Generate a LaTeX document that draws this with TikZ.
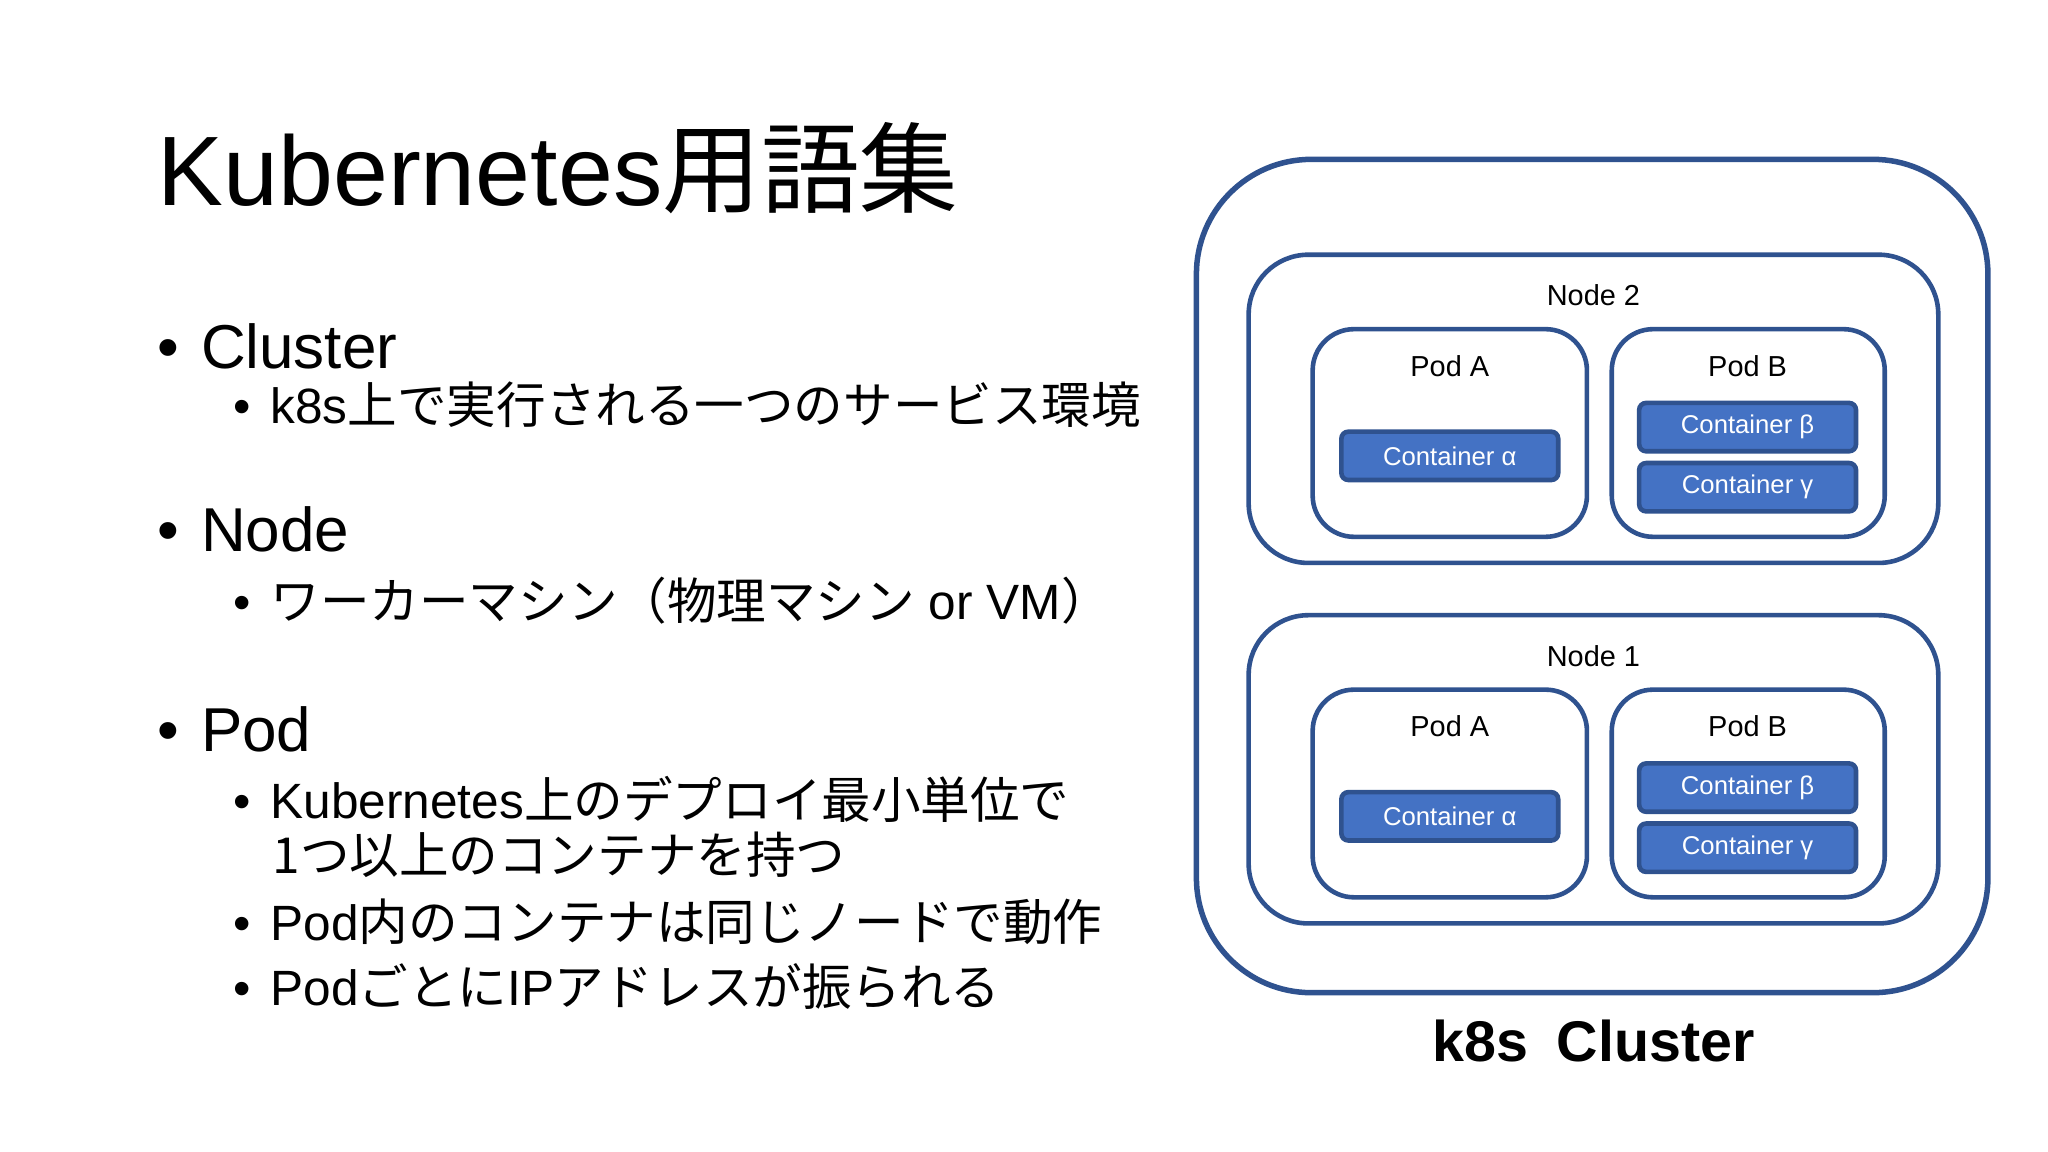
\documentclass[tikz,border=0pt]{standalone}
\usepackage{fontspec}
\setmainfont{Liberation Sans}
\newfontfamily\cjk{Noto Sans CJK JP}
\begin{document}
\begin{tikzpicture}[x=0.1mm,y=-0.1mm,
  box/.style={draw=blue!40!black!80, draw=bord, line width=1pt, rounded corners=#1},
  cont/.style={draw=bord, fill=cfill, line width=1pt, rounded corners=1.5pt, text=white, font=\fontsize{5.6}{6}\selectfont, minimum width=166*0.1mm, minimum height=37*0.1mm, inner sep=0pt},
  lbl/.style={font=\fontsize{6.3}{7}\selectfont},
  txt/.style={anchor=base west, inner sep=0pt}]
\definecolor{bord}{HTML}{2F528F}
\definecolor{cfill}{HTML}{4472C4}
\useasboundingbox (0,0) rectangle (1568,882);
\fill[white] (0,0) rectangle (1568,882);
% left text
\node[txt, font=\fontsize{21.5}{24}\selectfont] (title) at (120,157) {Kubernetes{\cjk 用語集}};
\node[txt, font=\fontsize{13.5}{15}\selectfont] (b1) at (120,282) {•\hspace{0.35em}Cluster};
\node[txt, font=\fontsize{10.8}{12}\selectfont] (s1) at (178,324) {•\hspace{0.4em}k8s{\cjk 上で実行される一つのサービス環境}};
\node[txt, font=\fontsize{13.5}{15}\selectfont] (b2) at (120,422) {•\hspace{0.35em}Node};
\node[txt, font=\fontsize{10.8}{12}\selectfont] (s2) at (178,474) {•\hspace{0.4em}{\cjk ワーカーマシン（物理マシン} or VM{\cjk ）}};
\node[txt, font=\fontsize{13.5}{15}\selectfont] (b3) at (120,575) {•\hspace{0.35em}Pod};
\node[txt, font=\fontsize{10.8}{12}\selectfont] (s3) at (178,627) {•\hspace{0.4em}Kubernetes{\cjk 上のデプロイ最小単位で}};
\node[txt, font=\fontsize{10.8}{12}\selectfont] (s3b) at (208,669) {{\cjk 1つ以上のコンテナを持つ}};
\node[txt, font=\fontsize{10.8}{12}\selectfont] (s4) at (178,720) {•\hspace{0.4em}Pod{\cjk 内のコンテナは同じノードで動作}};
\node[txt, font=\fontsize{10.8}{12}\selectfont] (s5) at (178,770) {•\hspace{0.4em}Pod{\cjk ごとに}IP{\cjk アドレスが振られる}};
% diagram
\draw[box=25pt, line width=1.2pt] (916,122) rectangle (1522,760);
\foreach \n/\dy in {2/0,1/276}{
  \begin{scope}[yshift=-\dy*0.1mm]
  \draw[box=13pt] (956,195) rectangle (1484,431);
  \node[lbl] (n\n) at (1220,226) {Node \n};
  \draw[box=9pt] (1005,252) rectangle (1215,411);
  \node[lbl] (pa\n) at (1110,280) {Pod A};
  \node[cont] (ca\n) at (1110,349) {Container α};
  \draw[box=9pt] (1234,252) rectangle (1443,411);
  \node[lbl] (pb\n) at (1338,280) {Pod B};
  \node[cont] (cb\n) at (1338,327) {Container β};
  \node[cont] (cg\n) at (1338,373) {Container γ};
  \end{scope}
}
\node[font=\bfseries\fontsize{12.5}{14}\selectfont] (cl) at (1220,797) {k8s\hspace{0.5em}Cluster};
\end{tikzpicture}
\end{document}
